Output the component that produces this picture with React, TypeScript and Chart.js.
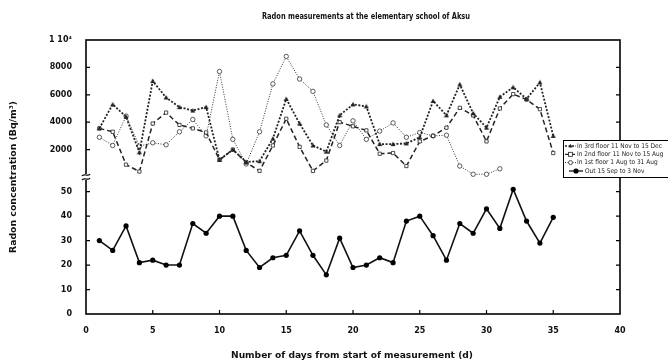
import { useEffect, useRef } from "react";
import { Chart, registerables } from "chart.js";

Chart.register(...registerables);

const days = [1, 2, 3, 4, 5, 6, 7, 8, 9, 10, 11, 12, 13, 14, 15, 16, 17, 18, 19, 20, 21, 22, 23, 24, 25, 26, 27, 28, 29, 30, 31, 32, 33, 34, 35];
const floor3Values = [3550, 5300, 4400, 1800, 7000, 5800, 5100, 4850, 5100, 1250, 2000, 1100, 1150, 2800, 5700, 3900, 2300, 1850, 4500, 5300, 5150, 2400, 2400, 2450, 2900, 5550, 4500, 6750, 4650, 3600, 5850, 6550, 5700, 6900, 3000];
const floor2Values = [3550, 3300, 900, 400, 3900, 4700, 3800, 3550, 3250, 1250, 2000, 1050, 450, 2300, 4250, 2200, 450, 1200, 4000, 3700, 3400, 1700, 1750, 800, 2600, 3000, 3600, 5050, 4500, 2600, 5000, 6050, 5650, 4950, 1750];
const floor1Values = [2900, 2300, 4450, 2250, 2500, 2350, 3300, 4200, 3000, 7700, 2750, 950, 3300, 6800, 8800, 7150, 6250, 3800, 2300, 4100, 2750, 3350, 3950, 2900, 3250, 3000, 3050, 800, 200, 200, 600];
const outValues = [30, 26, 36, 21, 22, 20, 20, 37, 33, 40, 40, 26, 19, 23, 24, 34, 24, 16, 31, 19, 20, 23, 21, 38, 40, 32, 22, 37, 33, 43, 35, 51, 38, 29, 39.5];

const xTicks = [0, 5, 10, 15, 20, 25, 30, 35, 40];
const lowTicks = [0, 10, 20, 30, 40, 50];
const highTicks = [2000, 4000, 6000, 8000, 10000];
const seriesLabels = [
  "In 3rd floor 11 Nov to 15 Dec",
  "In 2nd floor 11 Nov to 15 Aug",
  "In 1st floor 1 Aug to 31 Aug",
  "Out 15 Sep to 3 Nov",
];
const chartTitle = "Radon measurements at the elementary school of Aksu";
const xTitle = "Number of days from start of measurement (d)";
const yTitle = "Radon concentration (Bq/m\u00B3)";

const toPoints = (vals: number[]) => vals.map((v, i) => ({ x: days[i], y: v }));

const TICK_FONT = { family: "DejaVu Sans", size: 8, weight: "bold" as const };
const NARROW = '"Liberation Sans Narrow", "DejaVu Sans Condensed", "Liberation Sans", sans-serif';

function fitText(ctx: CanvasRenderingContext2D, text: string, cx: number, cy: number, width: number, font: string, rot = 0) {
  ctx.save();
  ctx.font = font;
  ctx.textAlign = "center";
  ctx.textBaseline = "middle";
  ctx.fillStyle = "#111";
  const w = ctx.measureText(text).width;
  ctx.translate(cx, cy);
  if (rot) ctx.rotate(rot);
  ctx.scale(width / w, 1);
  ctx.fillText(text, 0, 0);
  ctx.restore();
}

function drawMarker(ctx: CanvasRenderingContext2D, kind: string, x: number, y: number) {
  ctx.save();
  ctx.setLineDash([]);
  ctx.lineWidth = 0.8;
  ctx.strokeStyle = "#222";
  if (kind === "triangle") {
    ctx.fillStyle = "#222";
    ctx.beginPath();
    ctx.moveTo(x, y - 2.2);
    ctx.lineTo(x + 2, y + 1.5);
    ctx.lineTo(x - 2, y + 1.5);
    ctx.closePath();
    ctx.fill();
  } else if (kind === "rect") {
    ctx.fillStyle = "#fff";
    ctx.fillRect(x - 2, y - 2, 4, 4);
    ctx.strokeRect(x - 2, y - 2, 4, 4);
  } else if (kind === "circleOpen") {
    ctx.fillStyle = "#fff";
    ctx.beginPath();
    ctx.arc(x, y, 2, 0, Math.PI * 2);
    ctx.fill();
    ctx.stroke();
  } else {
    ctx.fillStyle = "#000";
    ctx.beginPath();
    ctx.arc(x, y, 2.6, 0, Math.PI * 2);
    ctx.fill();
  }
  ctx.restore();
}

const decorPlugin = {
  id: "decor",
  afterDraw(chart: any) {
    const ctx: CanvasRenderingContext2D = chart.ctx;
    const { left, right, top, bottom } = chart.chartArea;
    const sx = chart.scales.x;
    const yl = chart.scales.yLow;
    const yh = chart.scales.yHigh;
    ctx.save();
    // frame
    ctx.strokeStyle = "#000";
    ctx.lineWidth = 1.6;
    ctx.setLineDash([]);
    ctx.strokeRect(left, top, right - left, bottom - top);
    // ticks
    ctx.lineWidth = 1.2;
    ctx.beginPath();
    xTicks.slice(1, -1).forEach((v) => {
      const px = sx.getPixelForValue(v);
      ctx.moveTo(px, bottom);
      ctx.lineTo(px, bottom - 4);
    });
    const yPix = [
      ...lowTicks.slice(1).map((v) => yl.getPixelForValue(v)),
      ...highTicks.slice(0, -1).map((v) => yh.getPixelForValue(v)),
    ];
    yPix.forEach((py) => {
      ctx.moveTo(left, py);
      ctx.lineTo(left + 4, py);
      ctx.moveTo(right, py);
      ctx.lineTo(right - 4, py);
    });
    ctx.stroke();
    // axis break
    const by = yl.top;
    ctx.fillStyle = "#fff";
    ctx.fillRect(left - 2, by - 3, 4, 6);
    ctx.lineWidth = 1.2;
    ctx.beginPath();
    [-2, 2].forEach((d) => {
      ctx.moveTo(left - 4, by + d + 1);
      ctx.bezierCurveTo(left - 2, by + d - 2.5, left + 2, by + d + 2.5, left + 4, by + d - 1);
    });
    ctx.stroke();
    ctx.restore();

    // titles
    fitText(ctx, chartTitle, 366, 17, 208, `bold 9px ${NARROW}`);
    fitText(ctx, xTitle, 352, 356, 242, `bold 9px ${NARROW}`);
    fitText(ctx, yTitle, 14, 177, 152, `bold 9px ${NARROW}`, -Math.PI / 2);

    // legend
    ctx.save();
    ctx.fillStyle = "#fff";
    ctx.strokeStyle = "#000";
    ctx.lineWidth = 1;
    ctx.fillRect(563, 140.5, 120, 37);
    ctx.strokeRect(563.5, 140.5, 120, 37);
    const rows = [
      { y: 146, dash: [2, 1.5], lw: 1.4, kind: "triangle", x0: 565, x1: 576, tx: 577 },
      { y: 154.3, dash: [4, 2], lw: 1.2, kind: "rect", x0: 565, x1: 576, tx: 577 },
      { y: 162.6, dash: [1, 1.5], lw: 1, kind: "circleOpen", x0: 565, x1: 576, tx: 577 },
      { y: 171, dash: [], lw: 1.4, kind: "circle", x0: 569, x1: 583, tx: 585 },
    ];
    rows.forEach((r, i) => {
      ctx.strokeStyle = "#222";
      ctx.lineWidth = r.lw;
      ctx.setLineDash(r.dash);
      ctx.beginPath();
      ctx.moveTo(r.x0, r.y);
      ctx.lineTo(r.x1, r.y);
      ctx.stroke();
      drawMarker(ctx, r.kind, (r.x0 + r.x1) / 2, r.y);
      ctx.setLineDash([]);
      ctx.fillStyle = "#222";
      ctx.font = `6.5px ${NARROW}`;
      ctx.textAlign = "left";
      ctx.textBaseline = "middle";
      ctx.fillText(seriesLabels[i], r.tx, r.y);
    });
    ctx.restore();
  },
};

function triangleCanvas() {
  const c = document.createElement("canvas");
  c.width = 6;
  c.height = 6;
  const g = c.getContext("2d")!;
  g.fillStyle = "#222";
  g.beginPath();
  g.moveTo(3, 0.5);
  g.lineTo(5.5, 5);
  g.lineTo(0.5, 5);
  g.closePath();
  g.fill();
  return c;
}

export default function App() {
  const ref = useRef<HTMLCanvasElement | null>(null);
  useEffect(() => {
    if (!ref.current) return;
    const tri = triangleCanvas();
    const chart = new Chart(ref.current, {
      type: "line",
      data: {
        datasets: [
          {
            label: seriesLabels[0],
            data: toPoints(floor3Values),
            yAxisID: "yHigh",
            borderColor: "#222",
            borderWidth: 1.8,
            borderDash: [2, 1.6],
            pointStyle: tri as any,
            pointRadius: 3,
            tension: 0,
          },
          {
            label: seriesLabels[1],
            data: toPoints(floor2Values),
            yAxisID: "yHigh",
            borderColor: "#222",
            borderWidth: 1.5,
            borderDash: [5, 3],
            pointStyle: "rect",
            pointRadius: 2.3,
            pointBorderWidth: 0.8,
            pointBackgroundColor: "#fff",
            pointBorderColor: "#222",
            tension: 0,
          },
          {
            label: seriesLabels[2],
            data: toPoints(floor1Values),
            yAxisID: "yHigh",
            borderColor: "#333",
            borderWidth: 1,
            borderDash: [1, 1.5],
            pointStyle: "circle",
            pointRadius: 2.2,
            pointBorderWidth: 0.8,
            pointBackgroundColor: "#fff",
            pointBorderColor: "#333",
            tension: 0,
          },
          {
            label: seriesLabels[3],
            data: toPoints(outValues),
            yAxisID: "yLow",
            borderColor: "#111",
            borderWidth: 1.6,
            pointStyle: "circle",
            pointRadius: 2.6,
            pointBorderWidth: 0,
            pointBackgroundColor: "#000",
            tension: 0,
          },
        ],
      },
      options: {
        animation: false,
        responsive: false,
        devicePixelRatio: 1,
        layout: { padding: { left: 0, right: 48, top: 40, bottom: 0 } },
        plugins: { legend: { display: false }, title: { display: false }, tooltip: { enabled: false } },
        scales: {
          x: {
            type: "linear",
            min: 0,
            max: 40,
            afterBuildTicks: (s: any) => {
              s.ticks = xTicks.map((v) => ({ value: v }));
            },
            afterFit: (s: any) => {
              s.height = 48;
            },
            grid: { display: false, drawTicks: false },
            border: { display: false },
            ticks: { font: TICK_FONT, color: "#111", padding: 12, maxRotation: 0, autoSkip: false },
          },
          yLow: {
            type: "linear",
            position: "left",
            stack: "y",
            stackWeight: 1,
            min: 0,
            max: 56,
            afterBuildTicks: (s: any) => {
              s.ticks = lowTicks.map((v) => ({ value: v }));
            },
            afterFit: (s: any) => {
              s.width = 86;
            },
            grid: { display: false, drawTicks: false },
            border: { display: false },
            ticks: { font: TICK_FONT, color: "#111", padding: 14, autoSkip: false },
          },
          yHigh: {
            type: "linear",
            position: "left",
            stack: "y",
            stackWeight: 1,
            min: 0,
            max: 10000,
            afterBuildTicks: (s: any) => {
              s.ticks = highTicks.map((v) => ({ value: v }));
            },
            afterFit: (s: any) => {
              s.width = 86;
            },
            grid: { display: false, drawTicks: false },
            border: { display: false },
            ticks: {
              font: TICK_FONT,
              color: "#111",
              padding: 14,
              autoSkip: false,
              callback: (v: any) => (v === 10000 ? "1 10\u2074" : String(v)),
            },
          },
        },
      },
      plugins: [decorPlugin],
    });
    return () => chart.destroy();
  }, []);
  return (
    <div style={{ position: "fixed", left: 0, top: 0, width: 668, height: 362, background: "#fff" }}>
      <canvas ref={ref} width={668} height={362} style={{ display: "block" }} />
    </div>
  );
}
